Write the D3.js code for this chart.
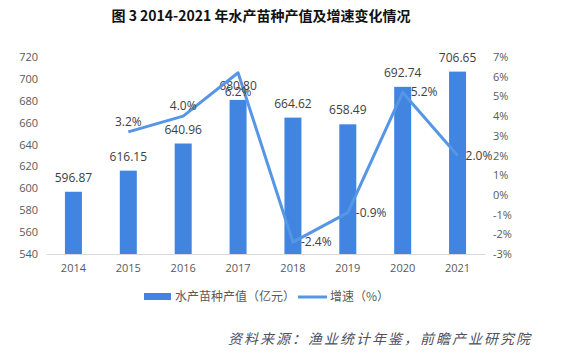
<!DOCTYPE html>
<html><head><meta charset="utf-8">
<script src="https://cdn.jsdelivr.net/npm/d3@7"></script>
<style>body{margin:0;background:#fff}</style>
</head><body>
<svg id="c" width="577" height="358"></svg>
<script>
const years = ["2014","2015","2016","2017","2018","2019","2020","2021"];
const outputValues = [596.87, 616.15, 640.96, 680.80, 664.62, 658.49, 692.74, 706.65];
const outputLabels = ["596.87","616.15","640.96","680.80","664.62","658.49","692.74","706.65"];
const growthYears = ["2015","2016","2017","2018","2019","2020","2021"];
const growthValues = [3.2, 4.0, 6.2, -2.4, -0.9, 5.2, 2.0];
const growthLabelPos = ["above","above","below","right","right","right","right"];
const leftTicks = [540,560,580,600,620,640,660,680,700,720];
const rightTicks = [-3,-2,-1,0,1,2,3,4,5,6,7];
const title = "图 3  2014-2021 年水产苗种产值及增速变化情况";
const legendNames = ["水产苗种产值（亿元）","增速（%）"];
const source = "资料来源：渔业统计年鉴，前瞻产业研究院";

const svg = d3.select("#c");
const barColor = "#4285e0", lineColor = "#5596e6", textColor = "#404040", axisText = "#595959";
const font = "'Open Sans','Noto Sans CJK SC',sans-serif";
const L = 46, R = 485, T = 57, B = 254;

const x = d3.scaleBand().domain(years).range([L, R]);
const yL = d3.scaleLinear().domain([540, 720]).range([B, T]);
const yR = d3.scaleLinear().domain([-3, 7]).range([B, T]);

svg.append("text").attr("x", 261).attr("y", 21).attr("text-anchor", "middle")
  .attr("font-family", "'Noto Sans CJK SC',sans-serif").attr("font-weight", "bold")
  .attr("font-size", 14).attr("fill", "#111").text(title);

// left axis
const gl = svg.append("g").attr("transform", `translate(${L},0)`)
  .call(d3.axisLeft(yL).tickValues(leftTicks).tickSize(0).tickPadding(8));
gl.select(".domain").remove();
gl.selectAll("text").attr("font-family", font).attr("font-size", 11).attr("fill", axisText);

// right axis
const gr = svg.append("g").attr("transform", `translate(${R},0)`)
  .call(d3.axisRight(yR).tickValues(rightTicks).tickSize(0).tickPadding(8).tickFormat(d => d + "%"));
gr.select(".domain").remove();
gr.selectAll("text").attr("font-family", font).attr("font-size", 11).attr("fill", axisText);

// bottom axis
const gb = svg.append("g").attr("transform", `translate(0,${B})`)
  .call(d3.axisBottom(x).tickSize(0).tickPadding(10));
gb.select(".domain").attr("stroke", "#d9d9d9");
gb.selectAll("text").attr("font-family", font).attr("font-size", 11).attr("fill", axisText);

const bw = 17;
svg.selectAll("rect.bar").data(years).join("rect").attr("class", "bar")
  .attr("x", d => x(d) + x.bandwidth()/2 - bw/2)
  .attr("width", bw)
  .attr("y", (d, i) => yL(outputValues[i]))
  .attr("height", (d, i) => B - yL(outputValues[i]))
  .attr("fill", barColor);

svg.selectAll("text.bl").data(years).join("text").attr("class", "bl")
  .attr("x", d => x(d) + x.bandwidth()/2)
  .attr("y", (d, i) => yL(outputValues[i]) - 10)
  .attr("text-anchor", "middle").attr("font-family", font).attr("font-size", 12)
  .attr("fill", textColor).text((d, i) => outputLabels[i]);

const line = d3.line().x((d, i) => x(growthYears[i]) + x.bandwidth()/2).y(d => yR(d));
svg.append("path").datum(growthValues).attr("d", line).attr("fill", "none")
  .attr("stroke", lineColor).attr("stroke-width", 3).attr("stroke-linejoin", "round");

svg.selectAll("text.gl").data(growthValues).join("text").attr("class", "gl")
  .attr("x", (d, i) => x(growthYears[i]) + x.bandwidth()/2 + (growthLabelPos[i] === "right" ? 8 : 0))
  .attr("y", (d, i) => yR(d) + (growthLabelPos[i] === "above" ? -6 : growthLabelPos[i] === "below" ? 23 : 4))
  .attr("text-anchor", (d, i) => growthLabelPos[i] === "right" ? "start" : "middle")
  .attr("font-family", font).attr("font-size", 12).attr("fill", textColor)
  .text(d => d.toFixed(1) + "%");

// legend
svg.append("rect").attr("x", 144).attr("y", 293).attr("width", 27).attr("height", 7).attr("fill", barColor);
svg.append("text").attr("x", 175).attr("y", 301).attr("font-family", "'Noto Sans CJK SC',sans-serif")
  .attr("font-size", 12).attr("fill", axisText).text(legendNames[0]);
svg.append("line").attr("x1", 298).attr("x2", 327).attr("y1", 297).attr("y2", 297)
  .attr("stroke", lineColor).attr("stroke-width", 3);
svg.append("text").attr("x", 330).attr("y", 301).attr("font-family", "'Noto Sans CJK SC',sans-serif")
  .attr("font-size", 12).attr("fill", axisText).text(legendNames[1]);

svg.append("text").attr("x", 228).attr("y", 344).attr("font-family", "'Noto Sans CJK SC',sans-serif")
  .attr("font-style", "italic").attr("font-size", 14).attr("letter-spacing", 2)
  .attr("fill", "#505060").text(source);
</script>
</body></html>
